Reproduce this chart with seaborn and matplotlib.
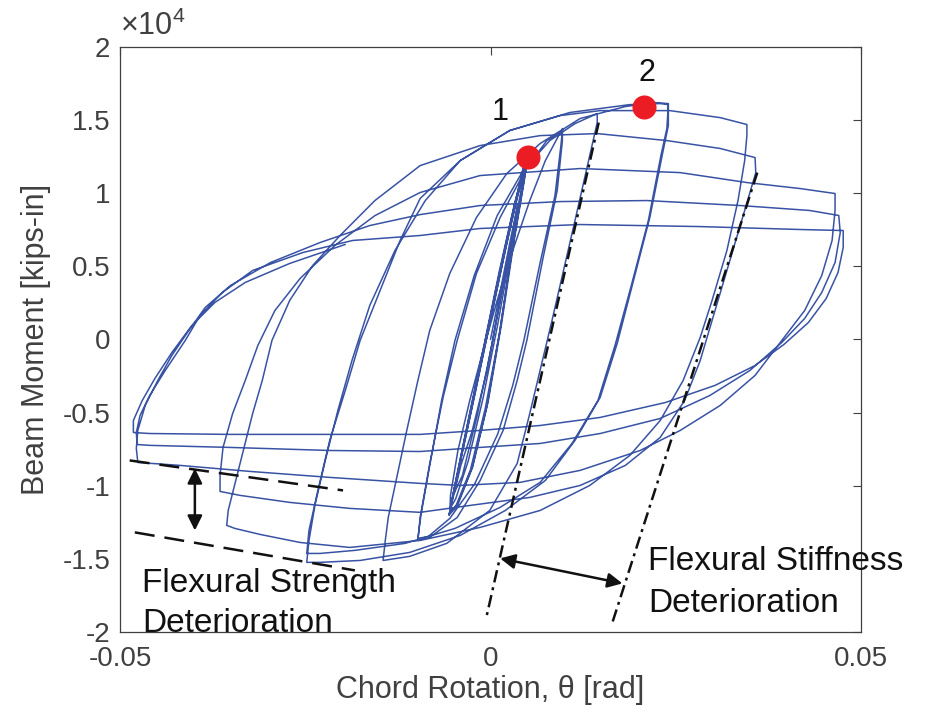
import seaborn as sns
import matplotlib.pyplot as plt
import pandas as pd

# chord rotation [rad], beam moment [kip-in]
# elastic cycles (thin lenses around the origin)
start = [(0.0, 0), (0.0012, 3000), (0.0026, 6600), (0.0037, 9300)]
lens_a_down = [(0.0037, 9300), (0.0030, 7300), (0.0014, 3000), (-0.0005, -2200), (-0.0025, -6300), (-0.0040, -8600)]
lens_b_up = [(-0.0049, -10500), (-0.0040, -8200), (-0.0020, -3500), (0.0000, 1300), (0.0020, 6100), (0.0037, 9900), (0.0045, 11300)]
lens_b_down = [(0.0045, 11300), (0.0038, 9300), (0.0020, 4500), (0.0002, -300), (-0.0018, -5200), (-0.0038, -9300), (-0.0049, -10500)]
lens_c_up = [(-0.0054, -11500), (-0.0046, -9400), (-0.0028, -5000), (-0.0008, -200), (0.0012, 4700), (0.0032, 9200), (0.0045, 11700), (0.0049, 12300)]
lens_c_down = [(0.0049, 12300), (0.0043, 10400), (0.0027, 5900), (0.0010, 1100), (-0.0010, -4000), (-0.0030, -8300), (-0.0047, -10900), (-0.0054, -11500)]
lens_d_up = [(-0.0055, -11800), (-0.0049, -10200), (-0.0032, -6300), (-0.0012, -1500), (0.0008, 3300), (0.0028, 8000), (0.0044, 11400), (0.0050, 12500)]
lens_d_down = [(0.0050, 12500), (0.0045, 10800), (0.0030, 6400), (0.0013, 700), (-0.0005, -4600), (-0.0025, -8800), (-0.0045, -11300), (-0.0055, -11800)]
lens_e_up = [(-0.0056, -12000), (-0.0050, -10500), (-0.0034, -6600), (-0.0014, -1800), (0.0006, 3100), (0.0027, 8000), (0.0044, 11700), (0.0051, 12800)]
lens_e_down = [(0.0051, 12800), (0.0046, 11000), (0.0032, 6800), (0.0015, 1100), (-0.0003, -4200), (-0.0024, -8700), (-0.0045, -11400), (-0.0056, -12000)]
lens_f_up = [(-0.0055, -11900), (-0.0047, -9800), (-0.0030, -5600), (-0.0010, -800), (0.0010, 4000), (0.0030, 8600), (0.0045, 11800), (0.0050, 12600)]
lens_f_down = [(0.0050, 12600), (0.0044, 10600), (0.0029, 6100), (0.0012, 400), (-0.0007, -4700), (-0.0027, -8900), (-0.0046, -11300), (-0.0055, -11900)]

# inelastic half cycles
h01 = [(-0.0055, -11900), (-0.0054, -10660), (-0.0044, -7590), (-0.0028, -4170), (-0.0010, -750), (0.0009, 2670),
       (0.0030, 6080), (0.0053, 9500), (0.0074, 12230), (0.0097, 14420)]
h02 = [(0.0097, 14420), (0.0097, 13600), (0.0090, 10180), (0.0071, 5600), (0.0049, -70), (0.0036, -2800),
       (0.0017, -6220), (-0.0014, -9640), (-0.0045, -12170), (-0.0082, -13530), (-0.0098, -13740)]
h03 = [(-0.0098, -13740), (-0.0095, -12170), (-0.0082, -8480), (-0.0064, -3960), (-0.0045, -70), (-0.0019, 4510),
       (0.0013, 8340), (0.0049, 11760), (0.0076, 13600), (0.0097, 14290)]
h04 = [(0.0097, 14290), (0.0095, 13260), (0.0087, 9840), (0.0067, 5260), (0.0045, -70), (0.0030, -3140),
       (0.0010, -6430), (-0.0021, -9840), (-0.0055, -12240), (-0.0084, -13470), (-0.0098, -13600)]
h05 = [(-0.0098, -13600), (-0.0094, -12030), (-0.0082, -8610), (-0.0066, -4170), (-0.0048, -70), (-0.0022, 4370),
       (0.0009, 8470), (0.0044, 11550), (0.0080, 13600), (0.0114, 14760), (0.0144, 15450)]
h06 = [(0.0144, 15450), (0.0144, 14830), (0.0114, 8130), (0.0083, 1300), (0.0053, -5060), (0.0036, -8480),
       (-0.0001, -11690), (-0.0059, -13940), (-0.0109, -14830), (-0.0145, -15110)]
h07 = [(-0.0145, -15110), (-0.0142, -13740), (-0.0138, -12170), (-0.0126, -9300), (-0.0113, -6220), (-0.0098, -2800),
       (-0.0082, 620), (-0.0055, 4510), (-0.0019, 8340), (0.0022, 11350), (0.0067, 13400), (0.0121, 15110),
       (0.0182, 15930), (0.0222, 16200), (0.0240, 16130)]
h08 = [(0.0240, 16130), (0.0240, 14630), (0.0233, 12920), (0.0215, 8340), (0.0192, 3830), (0.0171, -270),
       (0.0148, -3960), (0.0114, -6900), (0.0074, -9640), (0.0020, -11690), (-0.0041, -13400), (-0.0109, -14560),
       (-0.0176, -15110), (-0.0230, -15240), (-0.0248, -15240)]
h09 = [(-0.0248, -15240), (-0.0245, -13740), (-0.0237, -11350), (-0.0223, -8270), (-0.0206, -4850), (-0.0187, -1440),
       (-0.0163, 2320), (-0.0129, 6080), (-0.0088, 9500), (-0.0041, 12230), (0.0026, 14290), (0.0107, 15520),
       (0.0188, 16060), (0.0229, 16130), (0.0240, 16060)]
h10 = [(0.0240, 16060), (0.0238, 14420), (0.0230, 12580), (0.0213, 8130), (0.0190, 3690), (0.0168, -410),
       (0.0145, -4170), (0.0110, -7110), (0.0067, -9770), (0.0013, -11480), (-0.0048, -12920), (-0.0115, -13940),
       (-0.0183, -14420), (-0.0230, -14630), (-0.0248, -14630)]
h11 = [(-0.0248, -14630), (-0.0245, -13060), (-0.0233, -10320), (-0.0217, -6900), (-0.0196, -3490), (-0.0176, -70),
       (-0.0149, 3350), (-0.0122, 6770), (-0.0095, 9640), (-0.0041, 12230), (0.0026, 14290), (0.0094, 15310),
       (0.0148, 15650), (0.0242, 15650), (0.0310, 15170), (0.0346, 14700)]
h12 = [(0.0346, 14700), (0.0346, 13940), (0.0343, 12230), (0.0334, 9500), (0.0319, 6080), (0.0299, 2670),
       (0.0283, 140), (0.0260, -2800), (0.0229, -5540), (0.0188, -7930), (0.0134, -9980), (0.0067, -11690),
       (-0.0014, -12850), (-0.0095, -13740), (-0.0190, -14220), (-0.0257, -13880), (-0.0311, -13330),
       (-0.0345, -12920), (-0.0356, -12710)]
h13 = [(-0.0356, -12710), (-0.0354, -11690), (-0.0338, -8480), (-0.0321, -5060), (-0.0308, -2800), (-0.0295, -70),
       (-0.0271, 2670), (-0.0240, 5060), (-0.0203, 7110), (-0.0156, 9500), (-0.0095, 11890), (-0.0014, 13260),
       (0.0067, 13940), (0.0144, 14080), (0.0238, 13600), (0.0310, 13060), (0.0357, 12440)]
h14 = [(0.0357, 12440), (0.0358, 11410), (0.0343, 8820), (0.0323, 5400), (0.0303, 1980), (0.0283, -1440),
       (0.0262, -4170), (0.0229, -6700), (0.0182, -8610), (0.0121, -9980), (0.0053, -10800), (-0.0028, -11350),
       (-0.0095, -11820), (-0.0190, -11550), (-0.0271, -11140), (-0.0338, -10660), (-0.0365, -10390)]
h15 = [(-0.0365, -10390), (-0.0365, -9300), (-0.0361, -7380), (-0.0348, -5060), (-0.0331, -2800), (-0.0314, -410),
       (-0.0291, 1980), (-0.0257, 4170), (-0.0210, 6430), (-0.0156, 8470), (-0.0095, 10050), (-0.0014, 11210),
       (0.0121, 11690), (0.0256, 11410), (0.0346, 10730), (0.0418, 10320), (0.0465, 9980)]
h16 = [(0.0465, 9980), (0.0465, 8820), (0.0461, 6770), (0.0447, 4370), (0.0424, 1980), (0.0393, -70),
       (0.0357, -2460), (0.0310, -4510), (0.0256, -6220), (0.0202, -7590), (0.0121, -8950), (0.0040, -9770),
       (-0.0041, -9980), (-0.0095, -9840), (-0.0217, -9430), (-0.0325, -9020), (-0.0419, -8610), (-0.0476, -8410)]
h17 = [(-0.0476, -8410), (-0.0478, -7450), (-0.0476, -6220), (-0.0466, -4510), (-0.0449, -2800), (-0.0430, -1090),
       (-0.0410, 410), (-0.0385, 2190), (-0.0351, 3690), (-0.0297, 5260), (-0.0230, 6630), (-0.0163, 7790),
       (-0.0095, 8540), (-0.0014, 9160), (0.0094, 9430), (0.0211, 9500), (0.0337, 9160), (0.0431, 8820),
       (0.0470, 8480)]
h18 = [(0.0470, 8480), (0.0472, 7310), (0.0465, 5260), (0.0447, 3210), (0.0424, 1440), (0.0393, -210),
       (0.0350, -2120), (0.0296, -3830), (0.0229, -5400), (0.0148, -6430), (0.0067, -7110), (-0.0014, -7380),
       (-0.0095, -7660), (-0.0217, -7590), (-0.0352, -7380), (-0.0460, -7240), (-0.0477, -7180)]
h19 = [(-0.0477, -7180), (-0.0478, -6360), (-0.0473, -5200), (-0.0460, -3830), (-0.0439, -2120), (-0.0412, -70),
       (-0.0392, 1640), (-0.0362, 3210), (-0.0321, 4720), (-0.0253, 5950), (-0.0186, 6770), (-0.0095, 7110),
       (-0.0014, 7590), (0.0121, 7860), (0.0283, 7720), (0.0418, 7520), (0.0476, 7450)]
h20 = [(0.0476, 7450), (0.0476, 6290), (0.0469, 4580), (0.0453, 2800), (0.0429, 1160), (0.0396, -340),
       (0.0357, -1780), (0.0303, -3140), (0.0236, -4310), (0.0148, -5330), (0.0067, -5880), (-0.0014, -6220),
       (-0.0095, -6490), (-0.0217, -6490), (-0.0352, -6490), (-0.0460, -6430), (-0.0482, -6360)]
h21 = [(-0.0482, -6360), (-0.0482, -5540), (-0.0470, -4170), (-0.0453, -2670), (-0.0430, -890), (-0.0403, 960),
       (-0.0372, 2530), (-0.0331, 3900), (-0.0271, 5200), (-0.0196, 6500)]

# marked points 1 and 2
peak_theta = [0.0051, 0.0207]
peak_moment = [12460, 15880]
peak_names = ['1', '2']

# guide lines drawn over the loops
stiff_line_1 = ([0.0146, -0.0005], [14830, -18860])
stiff_line_2 = ([0.0360, 0.0164], [11410, -19430])
strength_line_1 = ([-0.0487, -0.0199], [-8270, -10320])
strength_line_2 = ([-0.0480, -0.0183], [-13190, -15790])

BLUE = '#3953a4'
RED = '#ec1c24'
GREY = '#404040'
INK = '#111111'

path = [start, lens_a_down, lens_b_up, lens_b_down, lens_c_up, lens_c_down, lens_d_up, lens_d_down,
        lens_e_up, lens_e_down, lens_f_up, lens_f_down, h01, h02, h03, h04, h05, h06, h07, h08, h09,
        h10, h11, h12, h13, h14, h15, h16, h17, h18, h19, h20, h21]
rows = []
for seg in path:
    for th, m in seg:
        rows.append((th, m))
df = pd.DataFrame(rows, columns=['theta', 'moment'])

sns.set_style('white')
plt.rcParams['font.family'] = ['Liberation Sans', 'DejaVu Sans']
plt.rcParams['mathtext.fontset'] = 'custom'
plt.rcParams['mathtext.rm'] = 'Liberation Sans'

fig = plt.figure(figsize=(9.29, 7.12), dpi=100)
ax = fig.add_axes([0.1292, 0.1124, 0.7976, 0.8216])

sns.lineplot(data=df, x='theta', y='moment', sort=False, estimator=None,
             color=BLUE, lw=1.1, ax=ax)

for xs, ys in [stiff_line_1, stiff_line_2]:
    ax.plot(xs, ys, color=INK, lw=1.8, linestyle=(0, (5, 2, 1.2, 2)), zorder=4)
for xs, ys in [strength_line_1, strength_line_2]:
    ax.plot(xs, ys, color=INK, lw=1.8, linestyle=(0, (8, 4)), zorder=4)

sns.scatterplot(x=peak_theta, y=peak_moment, s=300, color=RED, linewidth=0, zorder=5, ax=ax)
ax.text(0.0013, 15580, peak_names[0], fontsize=22, ha='center', va='center', color=INK)
ax.text(0.0211, 18200, peak_names[1], fontsize=22, ha='center', va='center', color=INK)

arrow = dict(arrowstyle='<|-|>', color=INK, lw=1.8, mutation_scale=22, shrinkA=0, shrinkB=0)
ax.annotate('', xy=(-0.0399, -8820), xytext=(-0.0399, -13060), arrowprops=arrow)
ax.annotate('', xy=(0.0013, -14970), xytext=(0.0178, -16680), arrowprops=arrow)

ax.text(-0.0470, -17290, 'Flexural Strength', fontsize=24, va='baseline', color=INK)
ax.text(-0.0470, -20030, 'Deterioration', fontsize=24, va='baseline', color=INK)
ax.text(0.0213, -15790, 'Flexural Stiffness', fontsize=24, va='baseline', color=INK)
ax.text(0.0213, -18660, 'Deterioration', fontsize=24, va='baseline', color=INK)

ax.set_xlim(-0.05, 0.05)
ax.set_ylim(-20000, 20000)
ax.set_xticks([-0.05, 0, 0.05])
ax.set_xticklabels(['-0.05', '0', '0.05'])
ax.set_yticks([-20000, -15000, -10000, -5000, 0, 5000, 10000, 15000, 20000])
ax.set_yticklabels(['-2', '-1.5', '-1', '-0.5', '0', '0.5', '1', '1.5', '2'])
ax.tick_params(direction='in', top=True, right=True, length=6, width=0.8,
               labelsize=20, colors=GREY)
ax.tick_params(axis='x', pad=10)
ax.tick_params(axis='y', pad=7)
for sp in ax.spines.values():
    sp.set_color(GREY)
    sp.set_linewidth(0.9)
ax.text(0.0, 1.008, '×10$^{4}$', transform=ax.transAxes,
        fontsize=22, color=GREY, ha='left', va='bottom')

ax.set_xlabel('Chord Rotation, θ [rad]', fontsize=22, color=GREY, labelpad=2)
ax.set_ylabel('Beam Moment [kips-in]', fontsize=22, color=GREY, labelpad=8)

fig.savefig('out.png', dpi=100)
